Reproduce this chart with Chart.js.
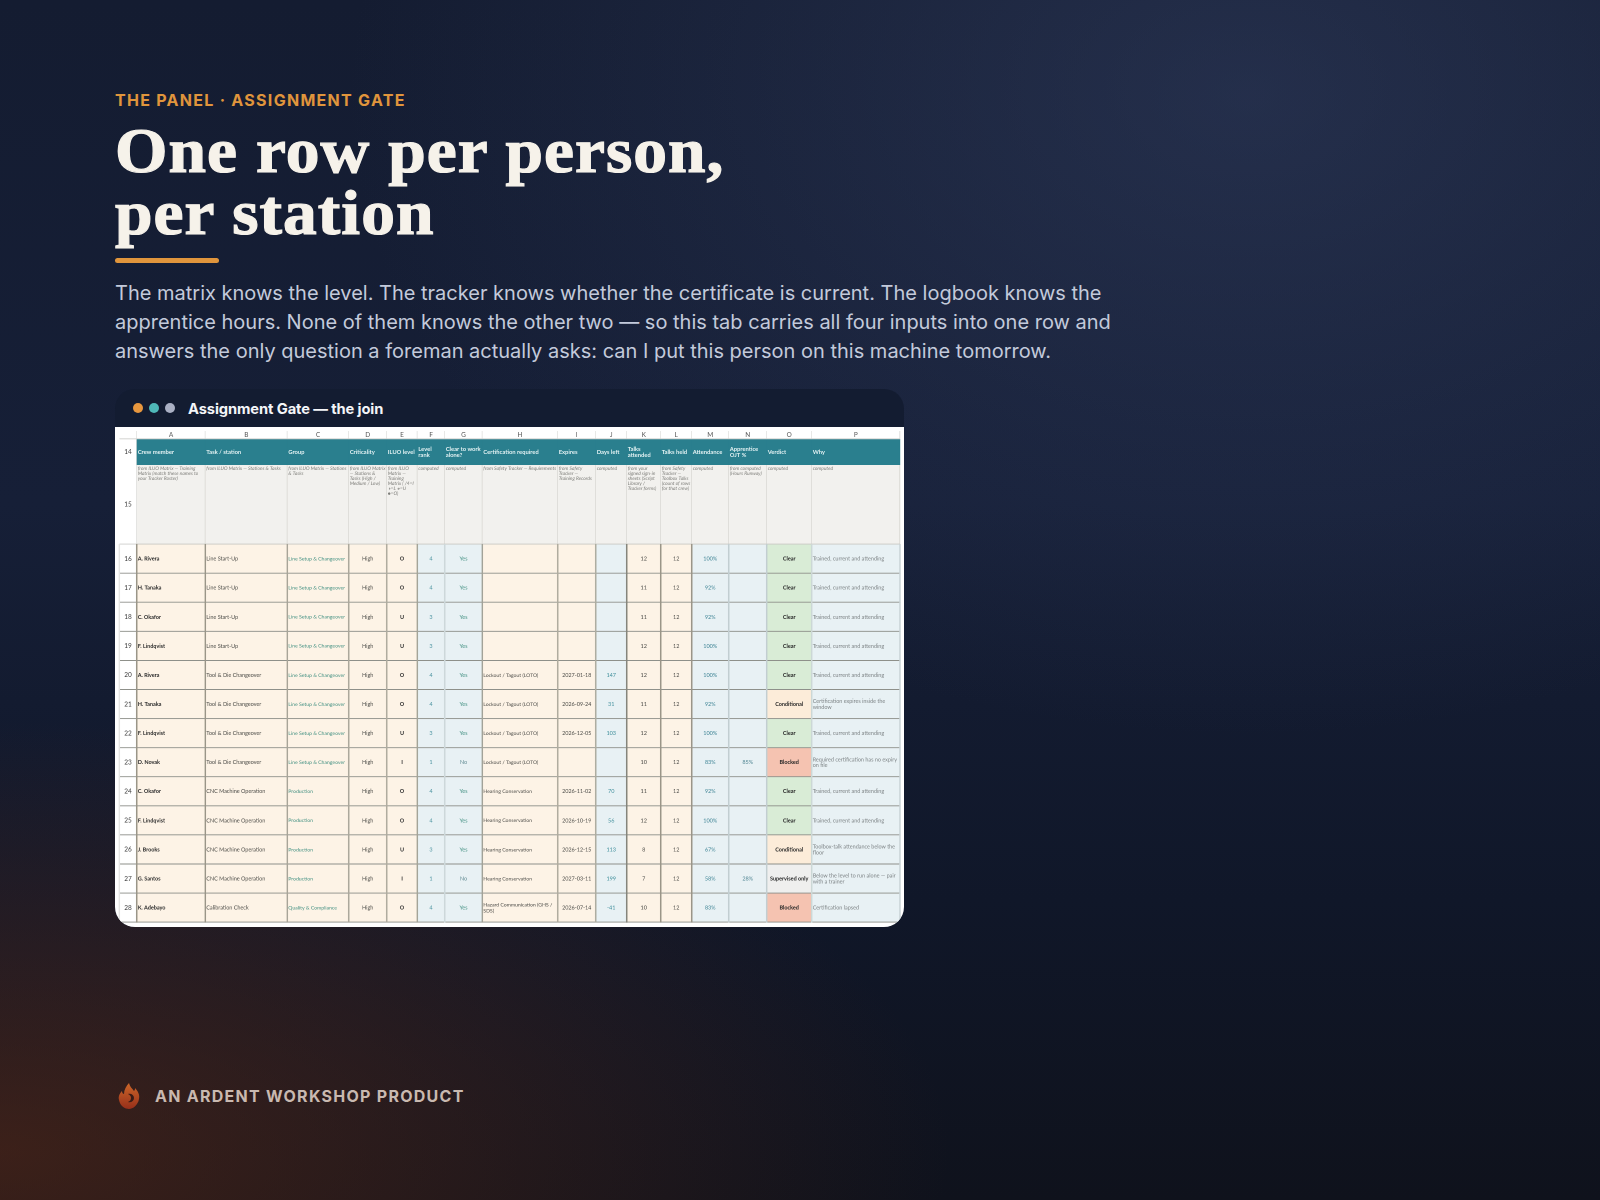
<!DOCTYPE html>
<html>
<head>
<meta charset="utf-8">
<title>Assignment Gate</title>
<script src="https://cdn.jsdelivr.net/npm/chart.js@4/dist/chart.umd.min.js"></script>
<style>
  html, body { margin: 0; padding: 0; }
  body {
    width: 1600px; height: 1200px; overflow: hidden; position: relative;
    font-family: Inter, "Noto Sans", sans-serif;
    background:
      radial-gradient(ellipse 950px 430px at 0% 96%, rgba(92,42,22,.58), rgba(92,42,22,0) 100%),
      radial-gradient(ellipse 900px 640px at 78% 8%, rgba(58,72,110,.42), rgba(58,72,110,0) 100%),
      linear-gradient(180deg, #141c31 0%, #161f37 42%, #101729 75%, #0f121c 100%);
  }
  .abs { position: absolute; white-space: nowrap; }
  #eyebrow { left: 115px; top: 90px; font-size: 16px; line-height: 20px; font-weight: 700; letter-spacing: 1.28px; color: #e0953c; }
  #title { left: 115px; top: 120px; font-family: "Liberation Serif", serif; font-size: 63px; line-height: 62px; font-weight: 700; color: #f6f2ea; letter-spacing: 1px; transform: scaleX(1.07); transform-origin: left top; -webkit-text-stroke: 1.2px #f6f2ea; }
  #rule { left: 115px; top: 258px; width: 104px; height: 5px; border-radius: 3px; background: #e0953c; }
  #lede { left: 115px; top: 279px; font-size: 20px; line-height: 29px; color: #c3cadb; }
  #card { left: 115px; top: 389px; width: 789px; height: 538px; border-radius: 20px; background: #131c31; overflow: hidden; }
  #card .dot { position: absolute; top: 14px; width: 10px; height: 10px; border-radius: 50%; }
  #cardTitle { position: absolute; left: 73px; top: 10px; font-size: 14.7px; line-height: 20px; font-weight: 700; color: #f4f5f8; letter-spacing: -0.1px; }
  #sheet { position: absolute; left: 0; top: 38px; width: 789px; height: 500px; background: #fff; }
  #footer { left: 155px; top: 1086px; font-size: 16px; line-height: 20px; font-weight: 700; letter-spacing: 1.27px; color: #c9b9b0; }
  #flame { left: 117px; top: 1082px; opacity: .85; }
  canvas { display: block; filter: blur(0.3px); }
</style>
</head>
<body>
<div class="abs" id="eyebrow">THE PANEL · ASSIGNMENT GATE</div>
<div class="abs" id="title">One row per person,<br>per station</div>
<div class="abs" id="rule"></div>
<div class="abs" id="lede">The matrix knows the level. The tracker knows whether the certificate is current. The logbook knows the<br>apprentice hours. None of them knows the other two — so this tab carries all four inputs into one row and<br>answers the only question a foreman actually asks: can I put this person on this machine tomorrow.</div>
<div class="abs" id="card">
  <span class="dot" style="left:18px;background:#e8973e"></span>
  <span class="dot" style="left:34px;background:#4fb8b8"></span>
  <span class="dot" style="left:50px;background:#aab0c4"></span>
  <div id="cardTitle">Assignment Gate — the join</div>
  <div id="sheet"><canvas id="sheetChart" width="789" height="500"></canvas></div>
</div>
<svg class="abs" id="flame" width="24" height="28" viewBox="0 0 24 28">
  <defs><linearGradient id="fl" x1="0" y1="0" x2="0" y2="1"><stop offset="0" stop-color="#e8742c"/><stop offset="1" stop-color="#a8321a"/></linearGradient></defs>
  <path fill="url(#fl)" d="M12 1c1 4 3 5 5 8 1-1 1-2 1-3 3 3 5 7 4 11-1 6-6 10-10 10S3 24 2 18c-1-4 1-7 3-9 0 2 1 3 2 3 0-4 2-8 5-11z"/>
  <path fill="#3a1b15" d="M11 12c3-1 6 1 6 4s-3 5-6 4c2-1 3-2 3-4s-1-3-3-4z"/>
</svg>
<div class="abs" id="footer">AN ARDENT WORKSHOP PRODUCT</div>

<script>
// sheet contents
const columnLetters = ["A","B","C","D","E","F","G","H","I","J","K","L","M","N","O","P"];
const rowNumbers = [14,15,16,17,18,19,20,21,22,23,24,25,26,27,28];
const headers = ["Crew member","Task / station","Group","Criticality","ILUO level","Level\nrank","Clear to work\nalone?","Certification required","Expires","Days left","Talks\nattended","Talks held","Attendance","Apprentice\nOJT %","Verdict","Why"];
const notes = [
  "from ILUO Matrix — Training\nMatrix (match these names to\nyour Tracker Roster)",
  "from ILUO Matrix — Stations & Tasks",
  "from ILUO Matrix — Stations\n& Tasks",
  "from ILUO Matrix\n— Stations &\nTasks (High /\nMedium / Low)",
  "from ILUO\nMatrix —\nTraining\nMatrix ( /4=I\n◑=L ◕=U\n●=O)",
  "computed",
  "computed",
  "from Safety Tracker — Requirements",
  "from Safety\nTracker —\nTraining Records",
  "computed",
  "from your\nsigned sign-in\nsheets (Script\nLibrary /\nTracker forms)",
  "from Safety\nTracker —\nToolbox Talks\n(count of rows\nfor that crew)",
  "computed",
  "from computed\n(Hours Runway)",
  "computed",
  "computed"
];
const crew = ["A. Rivera","H. Tanaka","C. Okafor","F. Lindqvist","A. Rivera","H. Tanaka","F. Lindqvist","D. Novak","C. Okafor","F. Lindqvist","J. Brooks","G. Santos","K. Adebayo"];
const task = ["Line Start-Up","Line Start-Up","Line Start-Up","Line Start-Up","Tool & Die Changeover","Tool & Die Changeover","Tool & Die Changeover","Tool & Die Changeover","CNC Machine Operation","CNC Machine Operation","CNC Machine Operation","CNC Machine Operation","Calibration Check"];
const group = ["Line Setup & Changeover","Line Setup & Changeover","Line Setup & Changeover","Line Setup & Changeover","Line Setup & Changeover","Line Setup & Changeover","Line Setup & Changeover","Line Setup & Changeover","Production","Production","Production","Production","Quality & Compliance"];
const criticality = ["High","High","High","High","High","High","High","High","High","High","High","High","High"];
const iluo = ["O","O","U","U","O","O","U","I","O","O","U","I","O"];
const levelRank = [4,4,3,3,4,4,3,1,4,4,3,1,4];
const clearAlone = ["Yes","Yes","Yes","Yes","Yes","Yes","Yes","No","Yes","Yes","Yes","No","Yes"];
const certification = ["","","","","Lockout / Tagout (LOTO)","Lockout / Tagout (LOTO)","Lockout / Tagout (LOTO)","Lockout / Tagout (LOTO)","Hearing Conservation","Hearing Conservation","Hearing Conservation","Hearing Conservation","Hazard Communication (GHS /\nSDS)"];
const expires = ["","","","","2027-01-18","2026-09-24","2026-12-05","","2026-11-02","2026-10-19","2026-12-15","2027-03-11","2026-07-14"];
const daysLeft = ["","","","",147,31,103,"",70,56,113,199,-41];
const talksAttended = [12,11,11,12,12,11,12,10,11,12,8,7,10];
const talksHeld = [12,12,12,12,12,12,12,12,12,12,12,12,12];
const attendance = ["100%","92%","92%","100%","100%","92%","100%","83%","92%","100%","67%","58%","83%"];
const apprenticeOjt = ["","","","","","","","85%","","","","28%",""];
const verdict = ["Clear","Clear","Clear","Clear","Clear","Conditional","Clear","Blocked","Clear","Clear","Conditional","Supervised only","Blocked"];
const why = [
  "Trained, current and attending","Trained, current and attending","Trained, current and attending","Trained, current and attending","Trained, current and attending",
  "Certification expires inside the\nwindow","Trained, current and attending","Required certification has no expiry\non file","Trained, current and attending","Trained, current and attending",
  "Toolbox-talk attendance below the\nfloor","Below the level to run alone — pair\nwith a trainer","Certification lapsed"
];
const bodyColumns = [crew,task,group,criticality,iluo,levelRank,clearAlone,certification,expires,daysLeft,talksAttended,talksHeld,attendance,apprenticeOjt,verdict,why];

// sheet layout: grid widths and heights in page pixels
const gutterLeft = 4.3, gutterWidth = 17.4, sheetTop = 4;
const columnWidths = [68.6,82,61.4,38,30.6,27.4,37.6,75.4,38,31,34,31,37,38,45,88.3];
const rowHeights = [8,26,79.3,29.08,29.08,29.08,29.08,29.08,29.08,29.08,29.08,29.08,29.08,29.08,29.08,29.08];
const sheetWidth = 789, sheetHeight = 500;

// colEdges[0] is the left of the gutter, colEdges[1] the left of column A
const colEdges = [gutterLeft, gutterLeft + gutterWidth];
columnWidths.forEach(w => colEdges.push(colEdges[colEdges.length - 1] + w));
const rowEdges = [sheetTop];
rowHeights.forEach(h => rowEdges.push(rowEdges[rowEdges.length - 1] + h));

const verdictColors = { "Clear": "#d9ecd6", "Conditional": "#fcecd9", "Blocked": "#f5c3b1", "Supervised only": "#efefee" };
const creamCols = [0,1,2,3,4,7,8,10,11];   // the rest of the body is pale blue
const leftAligned = [0,1,2,7,15];
// vertical rule colours of the body rows, one per edge, gutter left first
const ruleColors = ["#e4e4e2","#9a9588","#9a9588","#a8a498","#aca89c","#b0ac9f","#a4a498","#cdd8da","#a2a298","#b0ac9f","#aeada0","#85857c","#9a9588","#9a9588","#c2ced1","#c2ced1","#ccd8d6","#c8d2d5"];

function cellFill(row, col) {
    if (col === 0) return "#ffffff";      // gutter
    if (row === 0) return "#ffffff";      // letters
    if (row === 1) return "#2a7f8e";
    if (row === 2) return "#f2f1ee";
    const c = col - 1;
    if (c === 14) return verdictColors[verdict[row - 3]];
    return creamCols.includes(c) ? "#fdf3e6" : "#e8f1f4";
}

function cellBorder(row, col) {
    if (row === 0 || (col === 0 && row < 3)) return "#cfcfcc";
    if (row === 1) return "#2a7f8e";
    if (row === 2) return "#cbcac5";
    return "#8e908a";
}

const rowCenter = r => (rowEdges[r] + rowEdges[r + 1]) / 2;

// vertical rules of the body rows come first so they sit on top of the cells
const ruleSets = rowHeights.slice(3).map((h, i) => ({
    barThickness: h,
    grouped: false,
    data: colEdges.map(e => ({ x: [e - 0.4, e + 0.4], y: rowCenter(i + 3) })),
    backgroundColor: ctx => ruleColors[ctx.dataIndex],
    borderWidth: 0
}));

// one dataset per sheet row, one floating bar per column
const cellSets = rowHeights.map((h, r) => ({
    barThickness: h,
    grouped: false,
    data: colEdges.slice(0, -1).map((e, c) => ({ x: [e, colEdges[c + 1]], y: rowCenter(r) })),
    backgroundColor: ctx => cellFill(r, ctx.dataIndex),
    borderColor: ctx => cellBorder(r, ctx.dataIndex),
    borderWidth: ctx => ({ top: 0, left: 0, right: r < 3 ? 0.8 : 0, bottom: r === 1 ? 0 : 1 }),
    borderSkipped: false
}));

function drawLines(ctx, text, x, y, lineGap) {
    const lines = String(text).split("\n");
    const start = y - (lines.length - 1) * lineGap / 2;
    lines.forEach((l, i) => ctx.fillText(l, x, start + i * lineGap));
}

// all sheet text goes through the chart's scales
const sheetText = {
    id: "sheetText",
    afterDatasetsDraw(chart) {
        const { ctx, scales: { x, y } } = chart;
        const font = "Lato, 'Noto Sans', sans-serif";
        const midY = r => y.getPixelForValue(rowCenter(r));
        ctx.save();
        ctx.textBaseline = "middle";

        // column letters and row numbers
        ctx.textAlign = "center";
        ctx.font = "6.4px " + font;
        ctx.fillStyle = "#555555";
        columnLetters.forEach((l, c) => ctx.fillText(l, x.getPixelForValue((colEdges[c + 1] + colEdges[c + 2]) / 2), midY(0)));
        ctx.fillStyle = "#3c3c3c";
        rowNumbers.forEach((n, i) => ctx.fillText(n, x.getPixelForValue((colEdges[0] + colEdges[1]) / 2), midY(i + 1)));

        // header row
        ctx.textAlign = "left";
        ctx.font = "bold 5.8px " + font;
        ctx.fillStyle = "#e6f4f5";
        headers.forEach((h, c) => drawLines(ctx, h, x.getPixelForValue(colEdges[c + 1] + 1), midY(1), 6));

        // source notes, top aligned
        ctx.font = "italic 4.9px " + font;
        ctx.fillStyle = "#7f7f7b";
        ctx.textBaseline = "top";
        notes.forEach((n, c) => String(n).split("\n").forEach((l, i) =>
            ctx.fillText(l, x.getPixelForValue(colEdges[c + 1] + 1), y.getPixelForValue(rowEdges[2] + 1 + i * 5))));
        ctx.textBaseline = "middle";

        // body rows, the group and certification columns run narrower
        const colors = ["#2b2b2b","#4a4a46","#3f8f80","#4a4a46","#2b2b2b","#4a93a0","#3f8f80","#4a4a46","#4a4a46","#3f8f9c","#4a4a46","#4a4a46","#3f8596","#4f8592","#262626","#7d8385"];
        bodyColumns.forEach((col, c) => {
            const isLeft = leftAligned.includes(c);
            const isBold = c === 0 || c === 4 || c === 14;
            ctx.textAlign = isLeft ? "left" : "center";
            ctx.font = (isBold ? "bold " : "") + (c === 2 || c === 7 ? "5.1px " : "5.45px ") + font;
            ctx.fillStyle = colors[c];
            const px = isLeft ? colEdges[c + 1] + 1 : (colEdges[c + 1] + colEdges[c + 2]) / 2;
            col.forEach((v, i) => {
                if (c === 6 && v === "No") ctx.fillStyle = "#5f8a92";
                drawLines(ctx, v, x.getPixelForValue(px), midY(i + 3), 5.8);
                ctx.fillStyle = colors[c];
            });
        });
        ctx.restore();
    }
};

new Chart(document.getElementById("sheetChart"), {
    type: "bar",
    data: { datasets: ruleSets.concat(cellSets) },
    options: {
        indexAxis: "y",
        responsive: false,
        animation: false,
        devicePixelRatio: 2,
        layout: { padding: 0 },
        plugins: { legend: { display: false }, tooltip: { enabled: false } },
        scales: {
            x: { type: "linear", min: 0, max: sheetWidth, offset: false, display: false },
            y: { type: "linear", min: 0, max: sheetHeight, reverse: true, offset: false, display: false }
        }
    },
    plugins: [sheetText]
});
</script>
</body>
</html>
